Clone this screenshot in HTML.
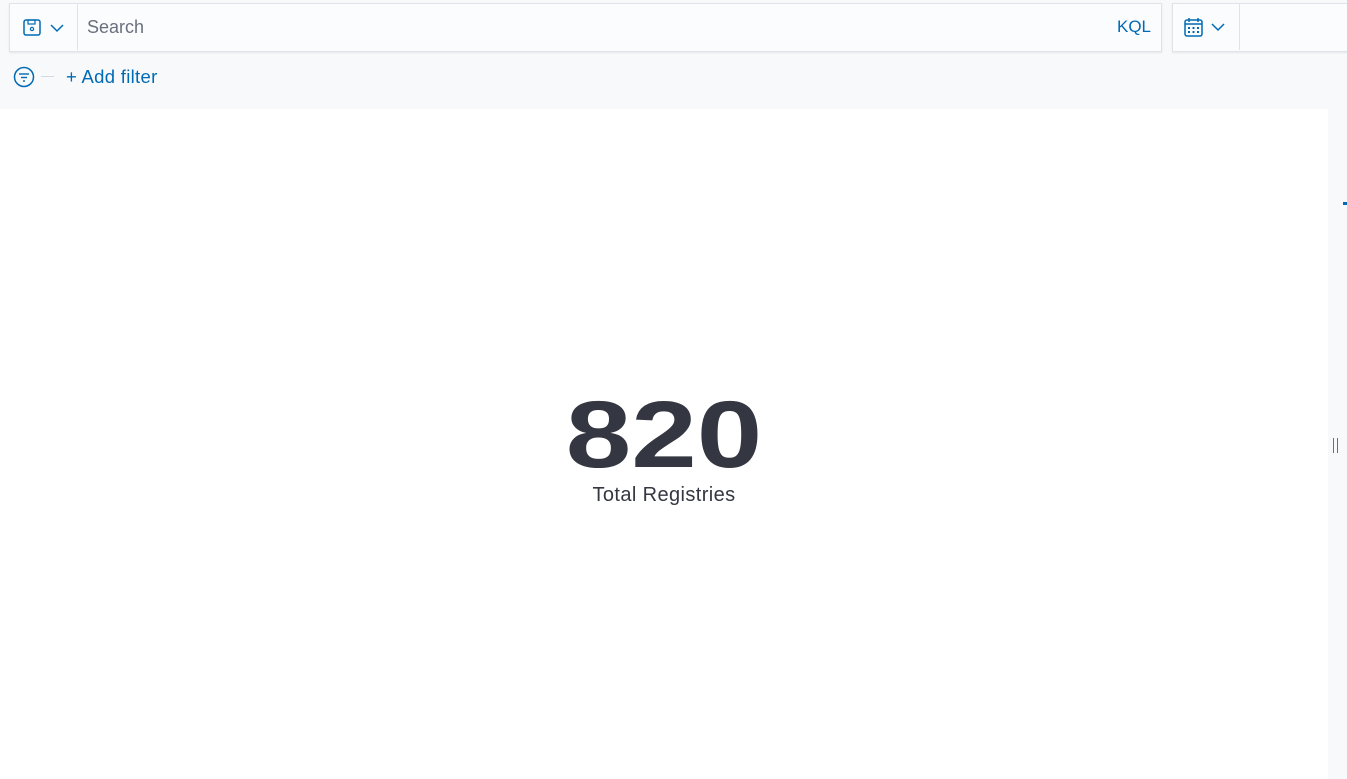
<!DOCTYPE html>
<html><head><meta charset="utf-8"><style>
body{margin:0;width:1347px;height:779px;background:#f8f9fb;font-family:"Liberation Sans",sans-serif;position:relative;overflow:hidden}
.abs{position:absolute}
.box{background:#fbfcfd;border:1px solid #dfe3ea;box-shadow:0 1px 2px rgba(0,0,0,.08)}
</style></head><body>
<div class="abs box" style="left:9px;top:3px;width:1151px;height:47px"></div>
<div class="abs" style="left:10px;top:4px;width:67px;height:46px;border-right:1px solid #dfe3ea">
<svg width="67" height="46"><rect x="14" y="16" width="16" height="15" rx="2" fill="none" stroke="#006bb4" stroke-width="1.5"/><rect x="18" y="16" width="7" height="4" fill="none" stroke="#006bb4" stroke-width="1.2"/><circle cx="22" cy="25" r="1.6" fill="none" stroke="#006bb4" stroke-width="1.2"/><polyline points="41,21 47,27 53,21" fill="none" stroke="#006bb4" stroke-width="1.5"/></svg></div>
<div class="abs" style="left:87px;top:17px;font-size:18px;color:#69707d">Search</div>
<div class="abs" style="left:1117px;top:17px;font-size:17px;color:#006bb4">KQL</div>
<div class="abs box" style="left:1172px;top:3px;width:180px;height:47px"></div>
<div class="abs" style="left:1173px;top:4px;width:66px;height:46px;border-right:1px solid #dfe3ea">
<svg width="66" height="46"><rect x="12" y="16" width="17" height="16" rx="2" fill="none" stroke="#006bb4" stroke-width="1.5"/><line x1="12" y1="20" x2="29" y2="20" stroke="#006bb4" stroke-width="1.5"/><line x1="16" y1="14" x2="16" y2="18" stroke="#006bb4" stroke-width="1.5"/><line x1="25" y1="14" x2="25" y2="18" stroke="#006bb4" stroke-width="1.5"/><g fill="#006bb4"><rect x="15" y="23" width="2" height="2"/><rect x="19.5" y="23" width="2" height="2"/><rect x="24" y="23" width="2" height="2"/><rect x="15" y="27" width="2" height="2"/><rect x="19.5" y="27" width="2" height="2"/><rect x="24" y="27" width="2" height="2"/></g><polyline points="39,20 45,26 51,20" fill="none" stroke="#006bb4" stroke-width="1.5"/></svg></div>
<svg class="abs" style="left:13px;top:66px" width="22" height="22"><circle cx="11" cy="11" r="9.5" fill="none" stroke="#006bb4" stroke-width="1.5"/><line x1="6" y1="8" x2="16" y2="8" stroke="#006bb4" stroke-width="1.4"/><line x1="8" y1="11.5" x2="14" y2="11.5" stroke="#006bb4" stroke-width="1.4"/><line x1="10" y1="15" x2="12" y2="15" stroke="#006bb4" stroke-width="1.4"/></svg>
<div class="abs" style="left:41px;top:76px;width:13px;height:1px;background:#d3dae6"></div>
<div class="abs" style="left:66px;top:66px;font-size:18.5px;color:#006bb4;letter-spacing:0.3px">+ Add filter</div>
<div class="abs" style="left:0;top:109px;width:1328px;height:670px;background:#fff"></div>
<div class="abs" style="left:1328px;top:109px;width:19px;height:670px;background:#f8f9fb"></div>
<div class="abs" style="left:1343px;top:202px;width:4px;height:3px;background:#006bb4"></div>
<div class="abs" style="left:1333px;top:438px;width:5px;height:15px;border-left:1.5px solid #69707d;border-right:1.5px solid #69707d;box-sizing:border-box"></div>
<div class="abs" style="left:0;width:1328px;top:375px;text-align:center;font-size:95px;font-weight:bold;color:#343741;line-height:120px;transform:scaleX(1.24);transform-origin:664px 0">820</div>
<div class="abs" style="left:0;width:1328px;top:484px;text-align:center;font-size:20px;color:#343741;letter-spacing:0.4px">Total Registries</div>
</body></html>
